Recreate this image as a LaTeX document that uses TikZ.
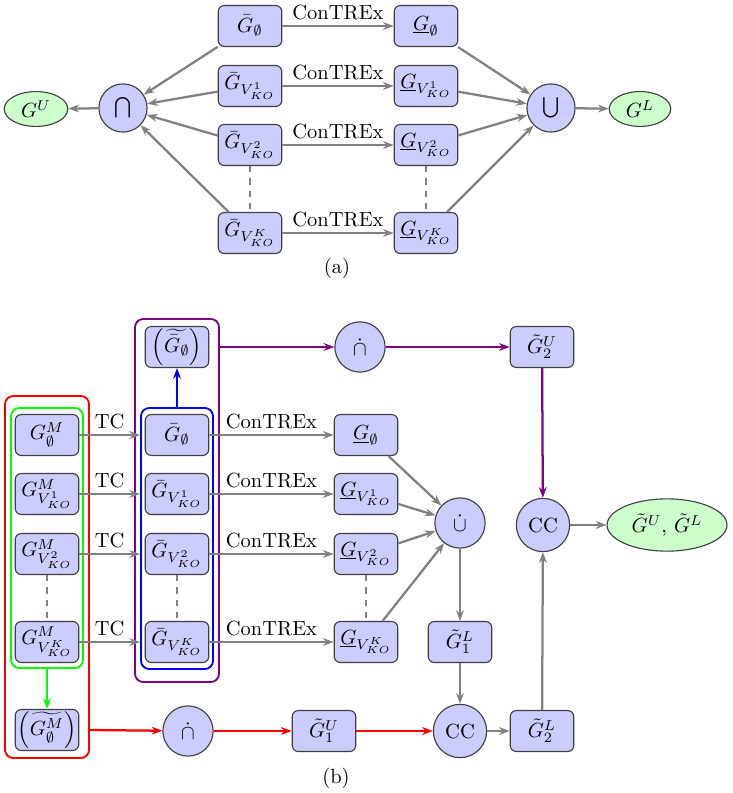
\documentclass[tikz,border=0pt]{standalone}
\usepackage{amsmath}
\usetikzlibrary{arrows.meta,shapes.geometric,fit}
\definecolor{mypurple}{RGB}{128,0,128}
\tikzset{
  box/.style={draw=black!75, line width=0.55pt, fill=blue!20, rounded corners=3pt, minimum width=31pt, minimum height=20pt, inner sep=1pt},
  circ/.style={circle, draw=black!75, line width=0.55pt, fill=blue!20, minimum size=23.5pt, inner sep=1pt},
  bcirc/.style={circ, minimum size=24.5pt},
  ell/.style={ellipse, draw=black!75, line width=0.55pt, fill=green!20, inner sep=0pt},
  frame/.style={draw, rounded corners=4pt, line width=0.9pt, inner sep=0pt},
  tip/.style={-{Stealth[length=5.2pt,width=3.8pt]}},
  garrow/.style={tip, draw=gray, line width=1.1pt},
  carrow/.style={tip, line width=1.1pt},
  dashline/.style={draw=gray, dashed, line width=1.1pt},
  lab/.style={above, inner sep=2.5pt}
}
\begin{document}
\begin{tikzpicture}[x=0.4878pt,y=-0.4878pt]
\useasboundingbox (0,0) rectangle (732,793);
% ---------------- (a) ----------------
\node[box] (ab0) at (250,26) {$\bar{G}_{\emptyset}$};
\node[box] (ab1) at (250,86) {$\bar{G}_{V_{KO}^{1}}$};
\node[box] (ab2) at (250,145) {$\bar{G}_{V_{KO}^{2}}$};
\node[box] (abK) at (250,233) {$\bar{G}_{V_{KO}^{K}}$};
\node[box] (au0) at (426,26) {$\underline{G}_{\emptyset}$};
\node[box] (au1) at (426,86) {$\underline{G}_{V_{KO}^{1}}$};
\node[box] (au2) at (426,145) {$\underline{G}_{V_{KO}^{2}}$};
\node[box] (auK) at (426,233) {$\underline{G}_{V_{KO}^{K}}$};
\node[circ] (acap) at (123,108) {$\bigcap$};
\node[circ] (acup) at (551,108) {$\bigcup$};
\node[ell, minimum width=31pt, minimum height=17pt] (gU) at (36,109) {$G^{U}$};
\node[ell, minimum width=30pt, minimum height=17pt] (gL) at (640,109) {$G^{L}$};
\node (alab) at (337,268) {(a)};
\foreach \i in {0,1,2,K}{
  \draw[garrow] (ab\i) -- node[lab] (ac\i) {ConTREx} (au\i);
  \draw[garrow] (ab\i) -- (acap);
  \draw[garrow] (au\i) -- (acup);
}
\draw[dashline] (ab2) -- (abK);
\draw[dashline] (au2) -- (auK);
\draw[garrow] (acap) -- (gU);
\draw[garrow] (acup) -- (gL);
% ---------------- (b) ----------------
\node[frame, draw=red, fit={(5,396) (89,758)}] (redf) {};
\node[frame, draw=green, fit={(11,408) (83,668)}] (greenf) {};
\node[frame, draw=mypurple, fit={(135,319) (219,682)}] (purpf) {};
\node[frame, draw=blue, fit={(141,408) (213,669)}] (bluef) {};
\node[box] (m0) at (47,435) {$G^{M}_{\emptyset}$};
\node[box] (m1) at (47,494) {$G^{M}_{V_{KO}^{1}}$};
\node[box] (m2) at (47,554) {$G^{M}_{V_{KO}^{2}}$};
\node[box] (mK) at (47,642) {$G^{M}_{V_{KO}^{K}}$};
\node[box] (mt) at (47,730) {$\left(\widetilde{G^{M}_{\emptyset}}\right)$};
\node[box] (b0) at (177,435) {$\bar{G}_{\emptyset}$};
\node[box] (b1) at (177,494) {$\bar{G}_{V_{KO}^{1}}$};
\node[box] (b2) at (177,554) {$\bar{G}_{V_{KO}^{2}}$};
\node[box] (bK) at (177,642) {$\bar{G}_{V_{KO}^{K}}$};
\node[box] (bt) at (177,347) {$\left(\widetilde{\bar{G}_{\emptyset}}\right)$};
\node[box] (u0) at (366,435) {$\underline{G}_{\emptyset}$};
\node[box] (u1) at (366,494) {$\underline{G}_{V_{KO}^{1}}$};
\node[box] (u2) at (366,554) {$\underline{G}_{V_{KO}^{2}}$};
\node[box] (uK) at (366,642) {$\underline{G}_{V_{KO}^{K}}$};
\node[bcirc] (dcup) at (460,523) {$\dot\cup$};
\node[box] (gl1) at (460,642) {$\tilde{G}^{L}_{1}$};
\node[bcirc, minimum size=26pt] (ccb) at (460,731) {CC};
\node[box] (gu1) at (324,731) {$\tilde{G}^{U}_{1}$};
\node[bcirc] (capb) at (188,731) {$\dot\cap$};
\node[box] (gl2) at (542,731) {$\tilde{G}^{L}_{2}$};
\node[bcirc, minimum size=26pt] (cct) at (543,525) {CC};
\node[ell, minimum width=58.5pt, minimum height=25.5pt] (res) at (667,525) {$\tilde{G}^{U}$, $\tilde{G}^{L}$};
\node[box] (gu2) at (542,347) {$\tilde{G}^{U}_{2}$};
\node[bcirc] (capt) at (360,347) {$\dot\cap$};
\node (blab) at (336,778) {(b)};
\foreach \i in {0,1,2,K}{
  \draw[garrow] (m\i) -- node[lab] (tc\i) {TC} (bluef.west |- b\i);
  \draw[garrow] (b\i) -- node[lab] (bc\i) {ConTREx} (u\i);
  \draw[garrow] (u\i) -- (dcup);
}
\draw[dashline] (m2) -- (mK);
\draw[dashline] (b2) -- (bK);
\draw[dashline] (u2) -- (uK);
\draw[garrow] (dcup) -- (gl1);
\draw[garrow] (gl1) -- (ccb);
\draw[garrow] (ccb) -- (gl2);
\draw[garrow] (gl2) -- (cct);
\draw[garrow] (cct) -- (res);
\draw[carrow, draw=red] (redf.east |- mt.center) -- (capb);
\draw[carrow, draw=red] (capb) -- (gu1);
\draw[carrow, draw=red] (gu1) -- (ccb);
\draw[carrow, draw=mypurple] (purpf.east |- bt.center) -- (capt);
\draw[carrow, draw=mypurple] (capt) -- (gu2);
\draw[carrow, draw=mypurple] (gu2) -- (cct);
\draw[carrow, draw=blue, line width=1.4pt] (bluef.north) -- (bt);
\draw[carrow, draw=green] (greenf.south) -- (mt);
\end{tikzpicture}
\end{document}
